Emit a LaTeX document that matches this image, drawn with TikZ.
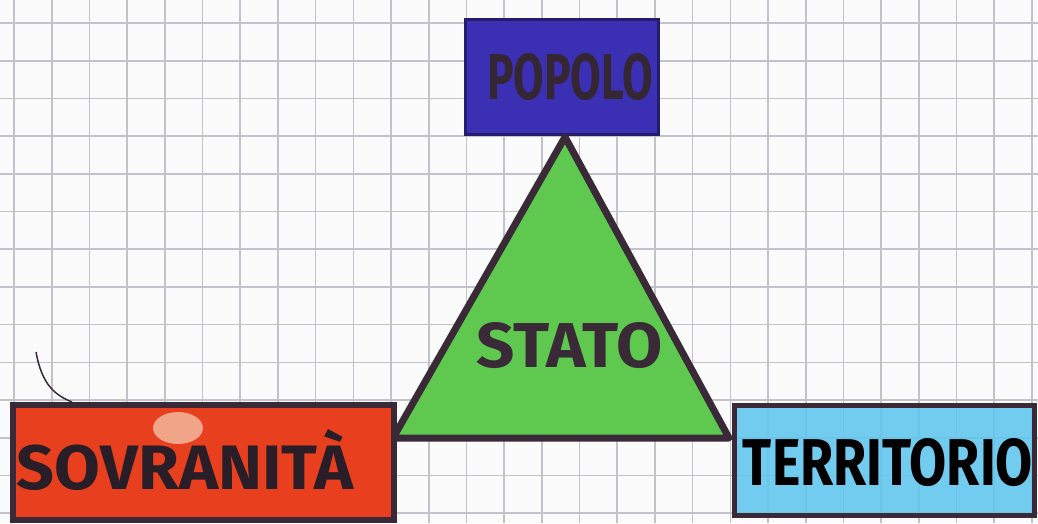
\documentclass[tikz,border=0pt]{standalone}
\usepackage{fontspec}
\setmainfont{Fira Sans}
\usepackage{graphicx}
\definecolor{paper}{HTML}{FBFBFC}
\definecolor{gridc}{HTML}{C2C2CA}
\definecolor{popblue}{HTML}{3B30B3}
\definecolor{ink}{HTML}{3A2A38}
\definecolor{redfill}{HTML}{E8401E}
\definecolor{skyfill}{HTML}{5EC6EE}
\definecolor{greenfill}{HTML}{5FC94F}
\definecolor{blob}{HTML}{F0A488}
\tikzset{
  box/.style={rectangle, draw=ink, line width=5pt, inner sep=0pt},
  lbl/.style={text=ink, font=\bfseries, inner sep=0pt},
}
\begin{document}
\begin{tikzpicture}[x=1pt,y=-1pt]
\useasboundingbox (0,0) rectangle (1038,523);
\fill[paper] (0,0) rectangle (1038,523);
% grid paper
\foreach \i in {0,...,27} {\draw[gridc, line width=1.6pt] ({14+37.7*\i},0) -- ({14+37.7*\i},523);}
\foreach \j in {0,...,13} {\draw[gridc, line width=1.6pt] (0,{23+37.7*\j}) -- (1038,{23+37.7*\j});}
% small pen stroke
\draw[ink, line width=1.5pt] (36,352) .. controls (42,385) and (55,395) .. (72,402);
% POPOLO
\node[box, fill=popblue, draw=popblue!60!black, line width=2.5pt, minimum width=193pt, minimum height=115pt] (popolo) at (562,77) {};
\node[lbl, text=ink!90!black] (popolot) at (570,77) {\resizebox{166pt}{46pt}{POPOLO}};
% STATO triangle
\coordinate (apex) at (565,137);
\coordinate (bl) at (393,438);
\coordinate (br) at (729,438);
\filldraw[fill=greenfill, draw=ink, line width=7pt, line join=round] (apex) -- (br) -- (bl) -- cycle;
\node[lbl] (stato) at (570,346) {\resizebox{186pt}{45pt}{STATO}};
% SOVRANITA
\node[box, fill=redfill, line width=6pt, minimum width=381pt, minimum height=115pt] (sovr) at (203,462) {};
\fill[blob] (178,428) ellipse (25pt and 16pt);
\node[lbl, text=ink!70!black] (sovrt) at (185,460) {\resizebox{336pt}{60pt}{SOVRANITÀ}};
% TERRITORIO
\node[box, fill=skyfill, fill opacity=0.88, minimum width=300pt, minimum height=110pt] (terr) at (884,460) {};
\node[lbl, text=black] (terrt) at (888,463) {\resizebox{290pt}{47pt}{TERRITORIO}};
\end{tikzpicture}
\end{document}
